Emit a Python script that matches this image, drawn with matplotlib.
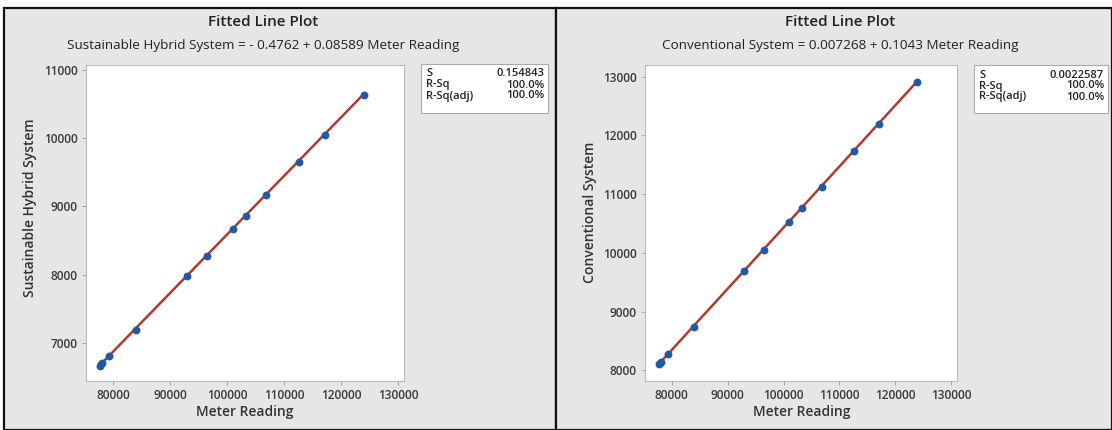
import numpy as np
import matplotlib.pyplot as plt
from matplotlib.patches import Rectangle

# meter readings (shared by both systems)
meter = [77720, 77950, 78020, 79350, 84040, 92980, 96440, 101050,
         103280, 106840, 112630, 117070, 123900]
hybrid = [6665, 6690, 6700, 6810, 7190, 7975, 8270, 8665,
          8860, 9160, 9655, 10045, 10635]
conventional = [8105, 8130, 8140, 8275, 8735, 9690, 10045, 10525,
                10760, 11130, 11730, 12200, 12905]

# fit coefficients shown in the titles
hyb_b0, hyb_b1 = -0.4762, 0.08589
con_b0, con_b1 = 0.007268, 0.1043

panels = [
    dict(y=hybrid, b0=hyb_b0, b1=hyb_b1, name="Sustainable Hybrid System",
         eq="Sustainable Hybrid System = - 0.4762 + 0.08589 Meter Reading",
         s="0.154843", yticks=[7000, 8000, 9000, 10000, 11000], ylim=(6440, 11070)),
    dict(y=conventional, b0=con_b0, b1=con_b1, name="Conventional System",
         eq="Conventional System = 0.007268 + 0.1043 Meter Reading",
         s="0.0022587", yticks=[8000, 9000, 10000, 11000, 12000, 13000], ylim=(7818, 13200)),
]
xticks = [80000, 90000, 100000, 110000, 120000, 130000]

W, H = 1112, 430
plt.rcParams['font.family'] = ['Open Sans', 'DejaVu Sans']
fig = plt.figure(figsize=(W / 100, H / 100), dpi=100, facecolor='white')

def px(x, y):
    return x / W, 1 - y / H

bg = '#e6e6e6'
# panel backgrounds with dark borders
for x0, x1 in [(4, 556), (556, 1112)]:
    fig.patches.append(Rectangle((x0 / W, 0), (x1 - x0) / W, 1 - 8 / H,
                                 transform=fig.transFigure, facecolor=bg,
                                 edgecolor='#111111', linewidth=1.6, zorder=-10))

layout = [
    dict(ax=(86, 65, 404, 381), title_x=263, ylab_x=30, ylab_y=208, xlab_x=245,
         box=(421, 64, 548, 113)),
    dict(ax=(645, 65, 957, 381), title_x=840, ylab_x=590, ylab_y=212, xlab_x=802,
         box=(974, 65, 1108, 113)),
]

txt = '#3a3a3a'
for p, L in zip(panels, layout):
    l, t, r, b = L['ax']
    ax = fig.add_axes([l / W, 1 - b / H, (r - l) / W, (b - t) / H])
    ax.set_facecolor('white')
    xs = np.array([min(meter), max(meter)])
    ax.plot(xs, p['b0'] + p['b1'] * xs, color='#b03a2e', lw=1.8, zorder=2)
    ax.scatter(meter, p['y'], s=32, color='#2258a5', zorder=3, linewidths=0)
    ax.set_xlim(75250, 131000)
    ax.set_ylim(*p['ylim'])
    ax.set_xticks(xticks)
    ax.set_yticks(p['yticks'])
    ax.tick_params(length=3, width=0.6, color='#999999', labelsize=8.6,
                   labelcolor=txt, pad=3)
    for lab in ax.get_xticklabels() + ax.get_yticklabels():
        lab.set_fontweight('semibold')
    for sp in ax.spines.values():
        sp.set_color('#bbbbbb')
        sp.set_linewidth(0.8)

    fig.text(*px(L['title_x'], 22), "Fitted Line Plot", ha='center', va='center',
             fontsize=11, color='#222222', fontweight='semibold')
    fig.text(*px(L['title_x'], 45), p['eq'], ha='center', va='center',
             fontsize=9.7, color='#222222', fontweight='medium')
    fig.text(*px(L['ylab_x'], L['ylab_y']), p['name'], rotation=90, ha='center',
             va='center', fontsize=10, color='#333333', fontweight='semibold')
    fig.text(*px(L['xlab_x'], 412), "Meter Reading", ha='center', va='center',
             fontsize=10, color='#333333', fontweight='semibold')

    bx0, by0, bx1, by1 = L['box']
    fig.patches.append(Rectangle(px(bx0, by1), (bx1 - bx0) / W, (by1 - by0) / H,
                                 transform=fig.transFigure, facecolor='white',
                                 edgecolor='#aaaaaa', linewidth=0.8, zorder=1))
    rows = [("S", p['s']), ("R-Sq", "100.0%"), ("R-Sq(adj)", "100.0%")]
    for i, (k, v) in enumerate(rows):
        yy = by0 + 10 + i * 11
        fig.text(*px(bx0 + 5, yy), k, ha='left', va='center', fontsize=8,
                 color='#222222', fontweight='semibold', zorder=4)
        fig.text(*px(bx1 - 4, yy), v, ha='right', va='center', fontsize=8,
                 color='#222222', fontweight='semibold', zorder=4)

fig.savefig('out.png', dpi=100, facecolor='white')
